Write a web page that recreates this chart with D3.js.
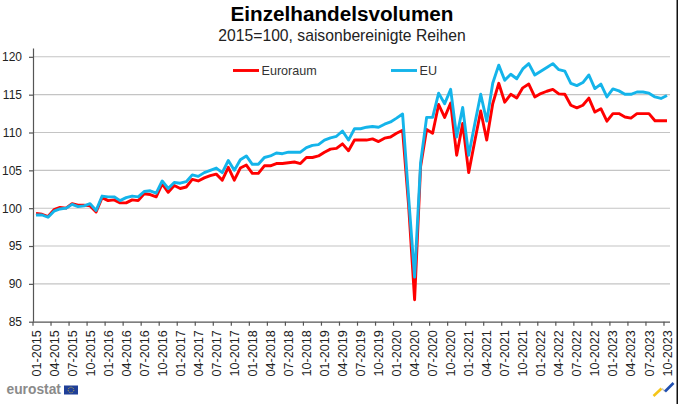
<!DOCTYPE html>
<html>
<head>
<meta charset="utf-8">
<script src="https://d3js.org/d3.v7.min.js"></script>
<style>
  html, body { margin: 0; padding: 0; background: #fff; overflow: hidden; }
  text { font-family: "Liberation Sans", Arial, sans-serif; }
</style>
</head>
<body>
<div class="chart"></div>
<script>
// values, one per month from 01-2015 to 10-2023
var euroraum = [
  99.3, 99.2, 98.9, 99.8, 100.1, 100.0, 100.6, 100.4, 100.4, 100.3, 99.5, 101.4,
  101.0, 101.1, 100.7, 100.7, 101.1, 101.0, 101.9, 101.8, 101.5, 103.2, 102.1, 103.0,
  102.6, 102.8, 103.8, 103.6, 104.0, 104.3, 104.5, 103.7, 105.4, 103.7, 105.3, 105.7,
  104.6, 104.6, 105.6, 105.6, 105.9, 105.9, 106.0, 106.1, 105.9, 106.7, 106.7, 106.9,
  107.4, 107.8, 107.9, 108.5, 107.6, 109.0, 109.0, 109.0, 109.15, 108.8, 109.25, 109.4,
  109.9, 110.3, 100.4, 87.9, 105.5, 110.4, 109.9, 113.7, 112.0, 113.9, 107.0, 111.2,
  104.7, 108.8, 112.85, 109.0, 113.8, 116.5, 114.0, 115.05, 114.55, 115.9, 116.4, 114.7,
  115.15, 115.45, 115.7, 115.1, 115.05, 113.6, 113.25, 113.6, 114.55, 112.7, 113.15, 111.5,
  112.5, 112.5, 112.05, 111.9, 112.5, 112.5, 112.5, 111.55, 111.55, 111.55
];
var eu = [
  99.1, 99.1, 98.8, 99.6, 99.9, 100.0, 100.5, 100.2, 100.3, 100.6, 99.7, 101.6,
  101.5, 101.5, 101.0, 101.4, 101.6, 101.5, 102.2, 102.3, 102.0, 103.6, 102.6, 103.4,
  103.3, 103.5, 104.4, 104.2, 104.7, 105.0, 105.3, 104.7, 106.3, 105.0, 106.4, 106.9,
  105.8, 105.8, 106.7, 106.9, 107.3, 107.2, 107.4, 107.4, 107.4, 108.0, 108.3, 108.4,
  109.0, 109.3, 109.5, 110.2, 109.0, 110.5, 110.5, 110.7, 110.8, 110.7, 111.1, 111.4,
  111.9, 112.45, 101.5, 90.9, 106.0, 112.0, 112.0, 115.2, 113.8, 115.7, 109.4, 113.3,
  107.0, 111.1, 115.05, 111.5, 116.5, 118.9, 116.9, 117.7, 117.1, 118.4, 119.1, 117.6,
  118.1, 118.6, 119.1, 118.3, 118.1, 116.5, 116.2, 116.6, 117.6, 115.8, 116.4, 114.7,
  115.75, 115.5, 115.05, 115.05, 115.35, 115.35, 115.2, 114.7, 114.5, 114.9
];
var startYear = 2015;
var yTicks = [85, 90, 95, 100, 105, 110, 115, 120];

var titleText = "Einzelhandelsvolumen";
var subtitleText = "2015=100, saisonbereinigte Reihen";

var svgWidth = 678;
var svgHeight = 404;

//plot edges in pixels
var margin = { top: 48.5, right: 8, bottom: 82.3, left: 33 };
var chartWidth = svgWidth - margin.left - margin.right;
var chartHeight = svgHeight - margin.top - margin.bottom;

// month labels like 01-2015
var months = eu.map(function (d, i) {
  var m = i % 12 + 1;
  return (m < 10 ? "0" + m : "" + m) + "-" + (startYear + Math.floor(i / 12));
});

var svg = d3.select(".chart")
  .append("svg")
  .attr("width", svgWidth)
  .attr("height", svgHeight)
  .style("display", "block");

// right hand frame edge of the picture
svg.append("rect")
  .attr("x", 676.5)
  .attr("y", 0)
  .attr("width", 1.5)
  .attr("height", svgHeight)
  .attr("fill", "#111");

var chartGroup = svg.append("g")
  .attr("transform", `translate(${margin.left}, ${margin.top})`);

var xScale = d3.scaleBand()
  .domain(months)
  .range([0, chartWidth]);

var yScale = d3.scaleLinear()
  .domain([85, 121.1])
  .range([chartHeight, 0]);

createGrid();
createAxis();
createLines();
createTitles();
createLegend();
createLogos();

/********************************************/
function createGrid() {
  chartGroup.selectAll(".grid")
    .data(yTicks.filter(d => d > 85))
    .enter()
    .append("line")
    .attr("class", "grid")
    .attr("x1", 0)
    .attr("x2", chartWidth)
    .attr("y1", d => yScale(d))
    .attr("y2", d => yScale(d))
    .attr("stroke", "#c4c4c4")
    .attr("stroke-width", 1.1);
}
/********************************************/
function createAxis() {
  var yAxis = d3.axisLeft(yScale)
    .tickValues(yTicks)
    .tickSize(4)
    .tickPadding(7);

  // ticks sit on the left edge of each month band, every third month
  var xAxis = d3.axisBottom(xScale)
    .tickValues(months.filter((d, i) => i % 3 === 0))
    .tickSize(4)
    .offset(0);

  var yG = chartGroup.append("g").attr("class", "y-axis").call(yAxis);
  var xG = chartGroup.append("g")
    .attr("class", "x-axis")
    .attr("transform", `translate(0, ${chartHeight})`)
    .call(xAxis);

  xG.selectAll(".tick")
    .attr("transform", d => `translate(${xScale(d)}, 0)`);

  xG.selectAll(".tick text")
    .attr("transform", "rotate(-90)")
    .attr("x", -8.5)
    .attr("y", 3)
    .attr("dy", "0.36em")
    .attr("text-anchor", "end");

  chartGroup.selectAll(".y-axis text, .x-axis text")
    .attr("fill", "#222")
    .style("font-size", "12.6px");
  yG.selectAll(".tick text").style("font-size", "12px");

  chartGroup.selectAll(".domain, .tick line")
    .attr("stroke", "#555")
    .attr("stroke-width", 1.2);
  chartGroup.selectAll(".y-axis .domain")
    .attr("d", `M0.5,${chartHeight}V0`);
  chartGroup.selectAll(".x-axis .domain")
    .attr("d", `M0,0.5H${chartWidth}`);
}
/********************************************/
function createLines() {
  var line = d3.line()
    .x((d, i) => xScale(months[i]) + xScale.bandwidth() / 2)
    .y(d => yScale(d));

  chartGroup.append("path")
    .attr("d", line(euroraum))
    .attr("fill", "none")
    .attr("stroke", "#ff0000")
    .attr("stroke-width", 2.9)
    .attr("stroke-linejoin", "round");

  chartGroup.append("path")
    .attr("d", line(eu))
    .attr("fill", "none")
    .attr("stroke", "#14b4ea")
    .attr("stroke-width", 2.9)
    .attr("stroke-linejoin", "round");
}
/********************************************/
function createTitles() {
  svg.append("text")
    .attr("x", 342)
    .attr("y", 21)
    .attr("text-anchor", "middle")
    .attr("font-weight", "bold")
    .attr("font-size", 20.7)
    .attr("fill", "#000")
    .text(titleText);

  svg.append("text")
    .attr("x", 342)
    .attr("y", 41)
    .attr("text-anchor", "middle")
    .attr("font-size", 15.7)
    .attr("fill", "#222")
    .text(subtitleText);
}
/********************************************/
function createLegend() {
  var items = [
    { label: "Euroraum", color: "#ff0000", x: 233 },
    { label: "EU", color: "#14b4ea", x: 391 }
  ];
  var g = svg.selectAll(".legend")
    .data(items)
    .enter()
    .append("g")
    .attr("class", "legend")
    .attr("transform", d => `translate(${d.x}, 70.5)`);

  g.append("line")
    .attr("x2", 26)
    .attr("stroke", d => d.color)
    .attr("stroke-width", 2.9);

  g.append("text")
    .attr("x", 28.5)
    .attr("y", 4.5)
    .attr("font-size", 12.6)
    .attr("fill", "#333")
    .text(d => d.label);
}
/********************************************/
function createLogos() {
  svg.append("text")
    .attr("x", 6.5)
    .attr("y", 394)
    .attr("font-size", 13.8)
    .attr("font-weight", "bold")
    .attr("fill", "#8a8a8a")
    .text("eurostat");

  svg.append("rect")
    .attr("x", 64)
    .attr("y", 385.5)
    .attr("width", 14)
    .attr("height", 9)
    .attr("fill", "#1f3f98");

  svg.append("circle")
    .attr("cx", 71)
    .attr("cy", 390)
    .attr("r", 2.8)
    .attr("fill", "none")
    .attr("stroke", "#e3c93a")
    .attr("stroke-width", 0.8)
    .attr("stroke-dasharray", "1 0.9");

  // small swoosh in the corner
  svg.append("path")
    .attr("d", "M653.5,396 L661.5,388.5")
    .attr("fill", "none")
    .attr("stroke", "#f5c518")
    .attr("stroke-width", 2.6);
  svg.append("path")
    .attr("d", "M662,388.5 L665,391.5")
    .attr("fill", "none")
    .attr("stroke", "#c9c9c9")
    .attr("stroke-width", 1.6);
  svg.append("path")
    .attr("d", "M665,391.5 L673.5,383")
    .attr("fill", "none")
    .attr("stroke", "#1f4fb0")
    .attr("stroke-width", 2.6);
}
</script>
</body>
</html>
